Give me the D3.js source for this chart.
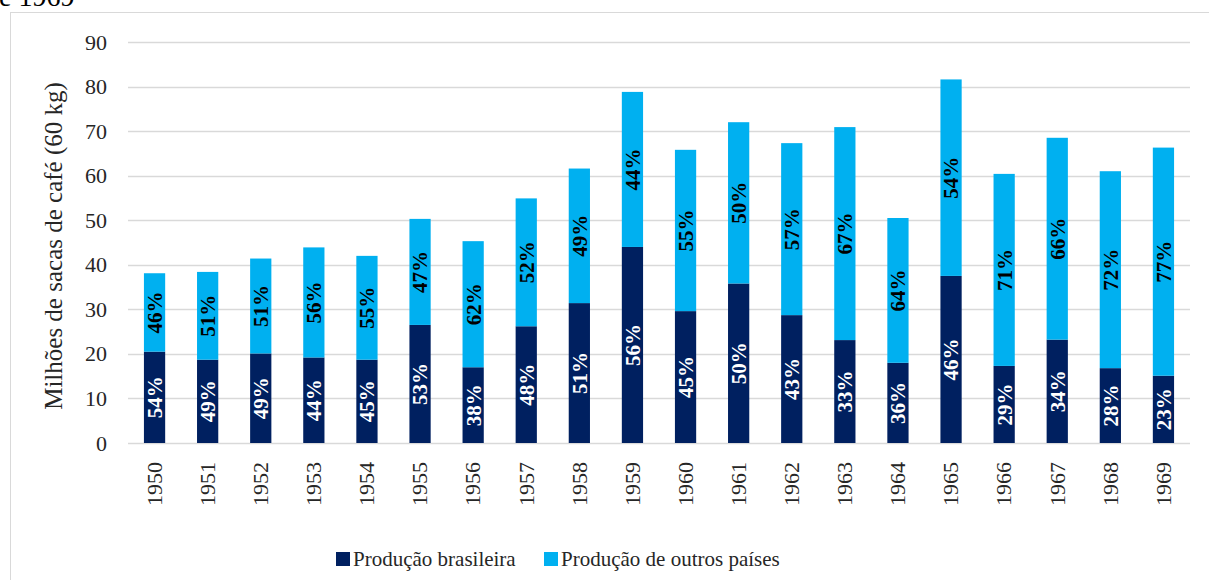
<!DOCTYPE html>
<html>
<head>
<meta charset="utf-8">
<script src="https://cdn.jsdelivr.net/npm/d3@7"></script>
<style>
  body { margin: 0; background: #fff; }
</style>
</head>
<body>
<svg id="chart" width="1209" height="580"></svg>
<script>
const years = ['1950', '1951', '1952', '1953', '1954', '1955', '1956', '1957', '1958', '1959',
  '1960', '1961', '1962', '1963', '1964', '1965', '1966', '1967', '1968', '1969']

// milhões de sacas (60 kg)
const brazil = [20.5, 18.7, 20.1, 19.2, 18.7, 26.5, 17.0, 26.2, 31.4, 44.0,
  29.6, 35.8, 28.7, 23.1, 18.0, 37.5, 17.3, 23.2, 16.8, 15.1]
const others = [17.6, 19.7, 21.3, 24.7, 23.3, 23.8, 28.3, 28.7, 30.2, 34.8,
  36.2, 36.2, 38.6, 47.8, 32.5, 44.1, 43.1, 45.3, 44.2, 51.2]

const brazilPct = [54, 49, 49, 44, 45, 53, 38, 48, 51, 56, 45, 50, 43, 33, 36, 46, 29, 34, 28, 23]
const othersPct = [46, 51, 51, 56, 55, 47, 62, 52, 49, 44, 55, 50, 57, 67, 64, 54, 71, 66, 72, 77]

const yTicks = [0, 10, 20, 30, 40, 50, 60, 70, 80, 90]
const seriesNames = ['Produção brasileira', 'Produção de outros países']
const colors = ['#002060', '#00b0f0']

const FONT = "'Liberation Serif', serif"
const svg = d3.select('#chart')

// cut-off caption above the chart
svg.append('text')
  .attr('x', -1)
  .attr('y', 6)
  .style('font-family', FONT)
  .attr('font-size', 28)
  .attr('fill', '#000')
  .text('e 1969')

// chart frame
svg.append('rect')
  .attr('x', 10.5)
  .attr('y', 12.5)
  .attr('width', 1230)
  .attr('height', 600)
  .attr('fill', 'none')
  .attr('stroke', '#d9d9d9')

const x = d3.scaleBand().domain(years).range([128, 1190]).paddingInner(0.6).paddingOuter(0.3)
const y = d3.scaleLinear().domain([0, 90]).range([443, 42])

// gridlines
svg.append('g')
  .selectAll('line')
  .data(yTicks)
  .join('line')
  .attr('x1', 128)
  .attr('x2', 1190)
  .attr('y1', d => Math.round(y(d)) + 0.5)
  .attr('y2', d => Math.round(y(d)) + 0.5)
  .attr('stroke', '#d9d9d9')
  .attr('stroke-width', 1.5)

// y axis labels
const yAxis = svg.append('g')
  .attr('transform', 'translate(107,0)')
  .call(d3.axisLeft(y).tickValues(yTicks).tickSize(0).tickPadding(0))
yAxis.select('.domain').remove()
yAxis.selectAll('text')
  .style('font-family', FONT)
  .attr('font-size', 22)
  .attr('fill', '#262626')

// x axis labels
const xAxis = svg.append('g')
  .attr('transform', 'translate(0,443)')
  .call(d3.axisBottom(x).tickSize(0).tickPadding(0))
xAxis.select('.domain').remove()
xAxis.selectAll('text')
  .style('font-family', FONT)
  .attr('font-size', 22)
  .attr('fill', '#262626')
  .attr('transform', 'rotate(-90)')
  .attr('text-anchor', 'end')
  .attr('dy', '0.33em')
  .attr('x', -19)
  .attr('y', 0)

// stacked bars
const rows = years.map((yr, i) => ({ year: yr, brazil: brazil[i], others: others[i], i }))
const stack = d3.stack().keys(['brazil', 'others'])(rows)
const pcts = [brazilPct, othersPct]
const labelColors = ['#fff', '#000']

stack.forEach((layer, k) => {
  svg.append('g')
    .selectAll('rect')
    .data(layer)
    .join('rect')
    .attr('x', d => x(d.data.year))
    .attr('width', x.bandwidth())
    .attr('y', d => y(d[1]))
    .attr('height', d => y(d[0]) - y(d[1]))
    .attr('fill', colors[k])

  svg.append('g')
    .selectAll('text')
    .data(layer)
    .join('text')
    .attr('transform', d => `translate(${x(d.data.year) + x.bandwidth() / 2},${(y(d[0]) + y(d[1])) / 2}) rotate(-90)`)
    .attr('text-anchor', 'middle')
    .attr('dy', '0.35em')
    .style('font-family', FONT)
    .attr('font-size', 21)
    .attr('font-weight', 'bold')
    .attr('fill', labelColors[k])
    .text(d => pcts[k][d.data.i] + '%')
})

// y axis title
svg.append('text')
  .attr('transform', 'translate(62,246) rotate(-90)')
  .attr('text-anchor', 'middle')
  .style('font-family', FONT)
  .attr('font-size', 25)
  .attr('fill', '#262626')
  .text('Milhões de sacas de café (60 kg)')

// legend
const legendX = [336, 544]
const legend = svg.append('g')
  .selectAll('g')
  .data(seriesNames)
  .join('g')
  .attr('transform', (d, i) => `translate(${legendX[i]},552)`)
legend.append('rect')
  .attr('width', 14)
  .attr('height', 14)
  .attr('fill', (d, i) => colors[i])
legend.append('text')
  .attr('x', 17)
  .attr('y', 14)
  .style('font-family', FONT)
  .style('font-size', '21px')
  .attr('fill', '#262626')
  .text(d => d)
</script>
</body>
</html>
